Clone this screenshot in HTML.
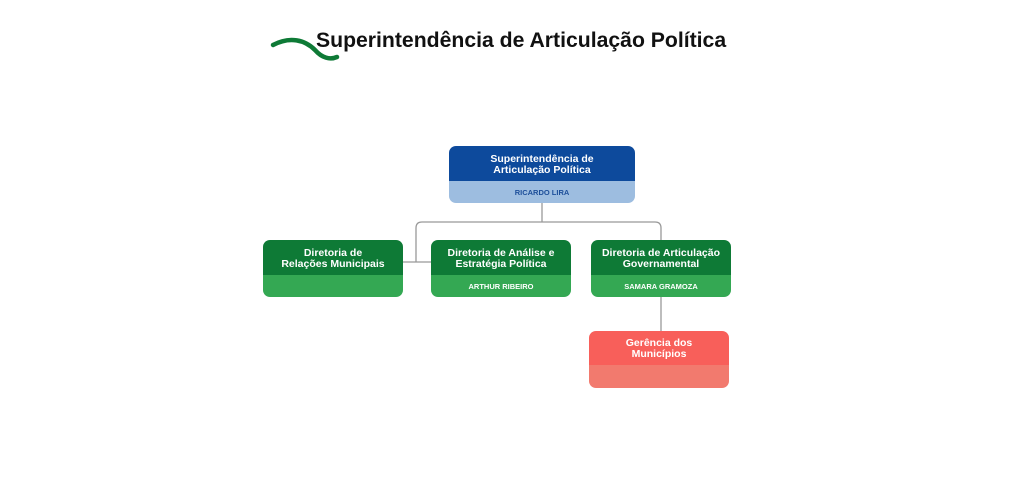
<!DOCTYPE html>
<html><head><meta charset="utf-8"><style>
body{margin:0;width:1024px;height:503px;background:#fff;position:relative;overflow:hidden;font-family:"Liberation Sans",sans-serif}
.b{position:absolute;border-radius:7px;overflow:hidden;text-align:center;color:#fff;font-weight:bold}
.h{display:flex;align-items:center;justify-content:center;font-size:10.5px;line-height:11px;padding-top:2px;box-sizing:border-box}
.f{display:flex;align-items:center;justify-content:center;font-size:7.5px}
.t{position:absolute;left:316px;top:29px;font-size:21.2px;font-weight:bold;color:#111;white-space:nowrap}
</style></head><body>
<svg style="position:absolute;left:0;top:0" width="1024" height="503">
<path d="M273 45 C290 36,305 40,315 50 C322 58,330 60,337 57" stroke="#0e7a36" stroke-width="4.5" fill="none" stroke-linecap="round"/>
<g stroke="#999" stroke-width="1.3" fill="none">
<path d="M542 203 V222"/>
<path d="M416 262 V228 Q416 222 422 222 H655 Q661 222 661 228 V240"/>
<path d="M403 262 H431"/>
<path d="M661 297 V331"/>
</g></svg>
<div class="t">Superintendência de Articulação Política</div>
<div class="b" style="left:449px;top:146px;width:186px;height:57px">
<div class="h" style="height:35px;background:#0d4a9c">Superintendência de<br>Articulação Política</div>
<div class="f" style="height:22px;background:#9dbde0;color:#1d4f9a">RICARDO LIRA</div></div>
<div class="b" style="left:263px;top:240px;width:140px;height:57px">
<div class="h" style="height:35px;background:#0e7a36">Diretoria de<br>Relações Municipais</div>
<div class="f" style="height:22px;background:#34a853"></div></div>
<div class="b" style="left:431px;top:240px;width:140px;height:57px">
<div class="h" style="height:35px;background:#0e7a36">Diretoria de Análise e<br>Estratégia Política</div>
<div class="f" style="height:22px;background:#34a853">ARTHUR RIBEIRO</div></div>
<div class="b" style="left:591px;top:240px;width:140px;height:57px">
<div class="h" style="height:35px;background:#0e7a36">Diretoria de Articulação<br>Governamental</div>
<div class="f" style="height:22px;background:#34a853">SAMARA GRAMOZA</div></div>
<div class="b" style="left:589px;top:331px;width:140px;height:57px">
<div class="h" style="height:34px;background:#f85f5a">Gerência dos<br>Municípios</div>
<div class="f" style="height:23px;background:#f27a6e"></div></div>
</body></html>
